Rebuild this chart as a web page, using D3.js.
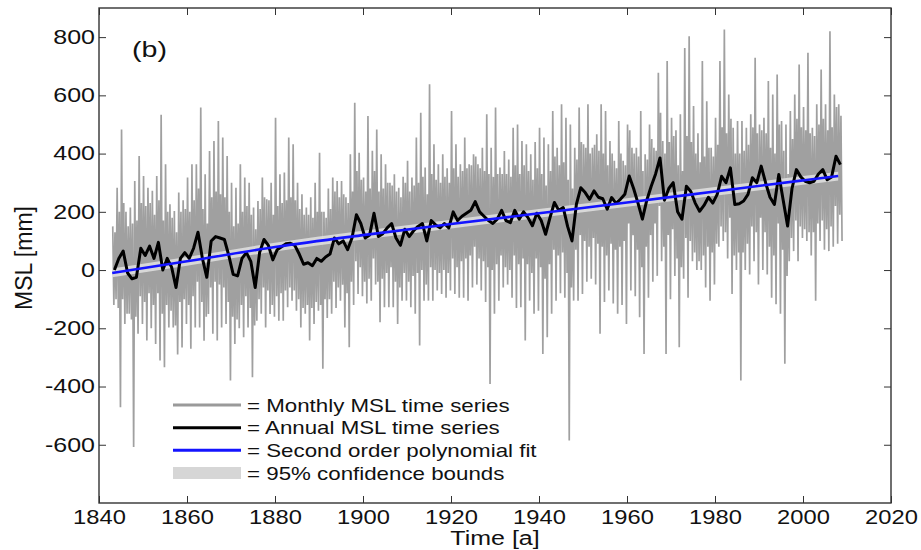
<!DOCTYPE html>
<html><head><meta charset="utf-8">
<script src="https://cdn.jsdelivr.net/npm/d3@7"></script>
<style>
html,body{margin:0;padding:0;background:#fff;}
svg{display:block;font-family:"Liberation Sans",Arial,sans-serif;}
</style></head>
<body>
<svg id="chart" width="921" height="550"></svg>
<script>
// ---- data ----
const firstYear = 1843;
// highest monthly value of each year (mm)
const monthlyHigh = [
 150,283,483,200,215,306,392,323,283,272,
 323,533,363,226,203,266,240,318,363,363,
 558,329,409,443,512,455,392,300,283,363,
 318,300,215,237,318,243,300,523,329,335,
 455,432,300,260,215,250,300,403,200,280,
 318,306,306,250,398,575,403,318,529,410,
 483,398,363,300,329,283,320,375,318,455,
 540,352,638,432,363,398,350,546,432,363,
 455,363,398,363,420,535,420,558,352,409,
 380,489,500,443,432,398,440,489,455,432,
 546,420,569,523,500,420,558,432,569,420,
 466,569,546,443,375,512,375,500,420,420,
 546,398,500,420,678,443,718,523,480,535,
 763,803,563,470,718,580,420,523,718,826,
 603,489,512,512,489,535,729,500,523,649,
 603,672,512,500,546,603,706,560,746,489,
 569,689,569,820,603,569];
// second highest monthly value of each year (mm)
const monthlyHigh2 = [
 130,200,230,150,160,170,230,220,230,190,
 240,170,200,180,130,200,210,200,240,280,
 210,160,250,270,260,250,200,150,160,200,
 220,190,140,210,250,240,190,220,230,240,
 250,240,210,190,190,180,200,200,180,210,
 270,250,260,230,270,340,310,270,280,340,
 270,280,300,290,270,250,300,270,290,300,
 320,260,330,310,300,320,300,350,320,340,
 350,360,390,350,340,330,320,330,330,330,
 320,360,330,360,340,310,350,330,290,340,
 390,360,370,310,280,380,440,420,400,430,
 410,400,360,400,350,400,360,480,400,390,
 340,380,450,410,540,400,440,460,360,340,
 460,440,400,370,390,420,390,430,490,470,
 520,400,400,410,430,490,470,480,470,420,
 400,500,410,330,450,520,490,480,470,460,
 500,520,480,490,560,530];
// second lowest monthly value of each year (mm)
const monthlyLow2 = [
 -120,-130,-100,-150,-170,-160,-90,-110,-80,-120,
 -80,-150,-120,-140,-190,-110,-100,-120,-90,-40,
 -110,-160,-60,-40,-50,-60,-110,-160,-170,-120,
 -90,-130,-190,-100,-60,-70,-120,-90,-80,-70,
 -60,-70,-100,-130,-120,-130,-110,-120,-100,-100,
 -40,-60,-50,-80,-40,30,10,-40,-30,40,
 -40,-30,-10,10,-40,-60,-10,-40,-20,-10,
 0,-50,10,0,-10,0,-10,40,10,30,
 40,50,80,40,30,10,0,20,50,10,
 0,50,20,40,20,-10,40,10,-30,20,
 70,50,60,-10,-60,70,120,100,80,110,
 90,80,50,90,70,80,100,160,120,70,
 10,80,120,160,220,80,120,140,40,10,
 110,100,60,30,50,80,60,90,150,130,
 180,50,60,60,90,150,130,180,130,80,
 50,160,70,-20,110,170,150,140,130,130,
 160,170,140,150,220,190];
// lowest monthly value of each year (mm)
const monthlyLow = [
 -100,-471,-185,-150,-608,-219,-185,-242,-200,-254,
 -311,-334,-197,-197,-290,-266,-185,-270,-197,-197,
 -243,-151,-219,-242,-197,-185,-379,-254,-200,-231,
 -197,-368,-174,-150,-197,-151,-160,-174,-174,-128,
 -105,-140,-197,-150,-242,-185,-140,-339,-165,-150,
 -130,-105,-197,-265,-120,-82,-90,-115,-105,-50,
 -179,-128,-128,-128,-185,-105,-105,-128,-150,-259,
 -105,-105,-105,-70,-82,-95,-70,-82,-95,-95,
 -105,-60,-50,-70,-110,-391,-150,-105,-60,-50,
 -95,-130,-128,-242,-105,-150,-140,-288,-231,-150,
 -105,-80,-95,-585,-105,-105,-82,-40,-30,-50,
 -219,-110,-70,-115,-150,-120,-185,-70,-90,-162,
 -288,-95,-40,-20,30,-288,-100,-20,-265,-30,
 -95,30,0,0,-60,-105,-50,80,100,40,
 -82,0,-379,0,-15,30,-50,0,-15,-95,
 -117,-150,-322,30,65,30,110,100,50,-105,
 100,70,65,80,90,100];
// annual mean sea level (mm)
const annualMSL = [
 0,40,65,-10,-30,-25,75,50,82,40,
 95,0,40,10,-60,40,60,40,75,130,
 40,-25,100,115,110,105,50,-15,-20,40,
 60,30,-60,60,105,85,35,70,80,90,
 92,85,55,20,25,15,40,30,45,55,
 110,90,100,70,110,190,160,110,120,195,
 115,125,145,160,110,85,140,115,135,150,
 160,100,170,155,145,160,145,200,170,185,
 195,205,235,200,185,170,160,175,205,170,
 163,205,175,200,180,152,195,170,123,180,
 232,205,215,150,100,226,283,266,243,272,
 250,245,209,249,230,243,260,323,280,230,
 175,240,288,330,385,240,280,300,200,175,
 288,270,230,202,222,250,230,260,322,300,
 351,225,228,237,260,317,300,357,300,250,
 225,328,240,151,280,345,320,305,300,305,
 330,345,310,320,391,362];
// second order polynomial fit and 95% bounds
const fitYears = [1843,1860,1880,1900,1920,1940,1960,1980,2000,2008];
const fitValues = [-10,30,79,120,158,195,232,270,308,323];
const fitLower  = [-25,15,64,105,143,180,217,255,293,308];
const fitUpper  = [5,45,94,135,173,210,247,285,323,338];
const xTicks = [1840,1860,1880,1900,1920,1940,1960,1980,2000,2020];
const yTicks = [-600,-400,-200,0,200,400,600,800];
const legendLabels = ["= Monthly MSL time series","= Annual MSL time series","= Second order polynomial fit","= 95% confidence bounds"];

// ---- layout ----
const svg = d3.select("#chart");
const L = 99, R = 891, T = 8, B = 503;
const x = d3.scaleLinear().domain([1840, 2020]).range([L, R]);
const y = d3.scaleLinear().domain([-800, 900]).range([B, T]);

const years = annualMSL.map((d, i) => firstYear + i);
const monthly = [];
years.forEach((yr, i) => {
  monthly.push([yr + 0.125, monthlyHigh[i]]);
  monthly.push([yr + 0.375, monthlyLow2[i]]);
  monthly.push([yr + 0.625, monthlyHigh2[i]]);
  monthly.push([yr + 0.875, monthlyLow[i]]);
});

svg.append("defs").append("clipPath").attr("id","clip")
  .append("rect").attr("x",L).attr("y",T).attr("width",R-L).attr("height",B-T);
const plot = svg.append("g").attr("clip-path","url(#clip)");

plot.append("path").datum(monthly)
  .attr("d", d3.line().x(d => x(d[0])).y(d => y(d[1])))
  .attr("fill","none").attr("stroke","#a0a0a0").attr("stroke-width",1.7);

const band = fitYears.map((yr,i)=>({yr, lo:fitLower[i], hi:fitUpper[i]}));
plot.append("path").datum(band)
  .attr("d", d3.area().x(d=>x(d.yr)).y0(d=>y(d.lo)).y1(d=>y(d.hi)).curve(d3.curveMonotoneX))
  .attr("fill","#e2e2e2").attr("opacity",0.85);

plot.append("path").datum(years.map((yr,i)=>[yr+0.5, annualMSL[i]]))
  .attr("d", d3.line().x(d=>x(d[0])).y(d=>y(d[1])))
  .attr("fill","none").attr("stroke","#000").attr("stroke-width",3).attr("stroke-linejoin","round");

plot.append("path").datum(fitYears.map((yr,i)=>[yr, fitValues[i]]))
  .attr("d", d3.line().x(d=>x(d[0])).y(d=>y(d[1])).curve(d3.curveMonotoneX))
  .attr("fill","none").attr("stroke","#1414ff").attr("stroke-width",2.6);

// ---- axes ----
const tickLen = 7;
const fmt = d => String(d);
const axB = svg.append("g").attr("transform",`translate(0,${B})`)
  .call(d3.axisBottom(x).tickValues(xTicks).tickFormat(fmt).tickSize(-tickLen).tickPadding(6));
const axT = svg.append("g").attr("transform",`translate(0,${T})`)
  .call(d3.axisTop(x).tickValues(xTicks).tickFormat("").tickSize(-tickLen));
const axL = svg.append("g").attr("transform",`translate(${L},0)`)
  .call(d3.axisLeft(y).tickValues(yTicks).tickFormat(fmt).tickSize(-tickLen).tickPadding(4));
const axR = svg.append("g").attr("transform",`translate(${R},0)`)
  .call(d3.axisRight(y).tickValues(yTicks).tickFormat("").tickSize(-tickLen));
[axB,axT,axL,axR].forEach(a=>{
  a.select(".domain").remove();
  a.selectAll(".tick line").attr("stroke","#333").attr("stroke-width",1);
});
axB.selectAll(".tick text").attr("font-size",21).attr("fill","#111")
  .attr("font-family","Liberation Sans, Arial, sans-serif")
  .attr("transform","scale(1.13,1)").attr("x",0);
axL.selectAll(".tick text").attr("font-size",20).attr("fill","#111")
  .attr("font-family","Liberation Sans, Arial, sans-serif")
  .attr("transform","scale(1.25,1)").attr("x",-4/1.25);

svg.append("rect").attr("x",L).attr("y",T).attr("width",R-L).attr("height",B-T)
  .attr("fill","none").attr("stroke","#333").attr("stroke-width",1.4);

// titles
svg.append("text").attr("transform",`translate(495,545) scale(1.25,1)`)
  .attr("text-anchor","middle").attr("font-size",20).attr("fill","#111").text("Time [a]");
svg.append("text").attr("transform",`translate(32,258) rotate(-90)`)
  .attr("text-anchor","middle").attr("font-size",23).attr("fill","#111").text("MSL [mm]");
svg.append("text").attr("transform",`translate(132,57) scale(1.3,1)`)
  .attr("font-size",22).attr("fill","#111").text("(b)");

// legend
const legRows = [405, 427.7, 450.3, 473];
const lg = svg.append("g");
const legStyles = [
  {type:"line", color:"#9a9a9a"},
  {type:"line", color:"#000"},
  {type:"line", color:"#1414ff"},
  {type:"box", color:"#d6d6d6"}];
legendLabels.forEach((lab,i)=>{
  const yy = legRows[i];
  if (legStyles[i].type === "line") {
    lg.append("line").attr("x1",173).attr("x2",241).attr("y1",yy).attr("y2",yy)
      .attr("stroke",legStyles[i].color).attr("stroke-width",3);
  } else {
    lg.append("rect").attr("x",173).attr("y",yy-6).attr("width",68).attr("height",12)
      .attr("fill",legStyles[i].color);
  }
  lg.append("text").attr("transform",`translate(247,${yy+6.5}) scale(1.24,1)`)
    .attr("font-size",18).attr("fill","#111").text(lab);
});
</script>
</body></html>
